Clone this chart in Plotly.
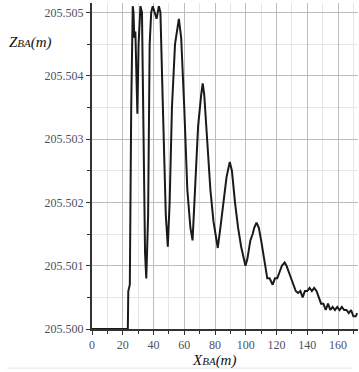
import plotly.graph_objects as go

x_vals = [0, 23.3, 23.6, 24.6, 25.5, 26.5, 27.0, 27.5, 28.2, 29.0, 29.5, 30.3, 31.5, 32.5, 33.5, 34.5, 35.3,
          36.5, 37.5, 38.5, 39.5, 41.0, 42.0, 43.5, 44.5, 46.0, 48.0, 49.3, 50.5, 52.0, 54.0, 56.5, 58.0,
          60.0, 62.0, 64.0, 65.4, 67.0, 69.0, 71.0, 72.0, 73.0, 75.0, 77.0, 79.0, 81.8, 83.5, 85.5, 87.5,
          89.6, 91.0, 93.0, 95.0, 97.0, 99.8, 101.0, 103.0, 104.5, 105.5, 107.0, 108.5, 110.0, 112.0,
          114.0, 115.5, 117.5, 119.0, 120.5, 122.0, 123.5, 125.3, 126.5, 128.0, 129.5, 131.0, 132.5,
          134.0, 135.5, 137.0, 138.5, 140.0, 141.5, 143.0, 144.5, 146.0, 147.5, 149.0, 150.5, 152.0,
          153.5, 155.0, 156.5, 158.0, 159.5, 161.0, 162.5, 164.0, 165.5, 167.0, 168.5, 170.0, 171.5, 172.5]
z_vals = [205.5000, 205.5000, 205.5006, 205.5007, 205.5035, 205.5051, 205.5050, 205.5046, 205.5047,
          205.5035, 205.5034, 205.5045, 205.5051, 205.5050, 205.5030, 205.5012, 205.5008,
          205.5018, 205.5045, 205.5050, 205.5051, 205.5050, 205.5049, 205.5051, 205.5050, 205.5036,
          205.5018, 205.5013, 205.5020, 205.5035, 205.5045, 205.5049, 205.5046,
          205.5035, 205.5022, 205.5016, 205.5014, 205.5022, 205.5032, 205.5037, 205.50388, 205.5037,
          205.5030, 205.5022, 205.5017, 205.50128, 205.5016, 205.5020, 205.5024,
          205.50264, 205.5025, 205.5020, 205.5016, 205.5013, 205.5010, 205.5011, 205.5014, 205.5015,
          205.5016, 205.50168, 205.5016, 205.5014, 205.5011,
          205.5008, 205.5008, 205.5007, 205.5008, 205.5008, 205.5009, 205.5010, 205.50105, 205.5010,
          205.5009, 205.5008, 205.5007, 205.5006,
          205.50057, 205.5006, 205.5005, 205.5006, 205.5006, 205.50065, 205.5006, 205.50065, 205.5006,
          205.5005, 205.5004, 205.5004, 205.5003,
          205.5004, 205.5003, 205.50035, 205.5003, 205.50035, 205.5003, 205.50035, 205.5003, 205.5003,
          205.50025, 205.5003, 205.5002, 205.5002, 205.50025]

x_ticks = [0, 20, 40, 60, 80, 100, 120, 140, 160]
y_ticks = [205.500, 205.501, 205.502, 205.503, 205.504, 205.505]

tick_font = dict(family="Liberation Serif", size=12, color="#4d5060")

fig = go.Figure()
fig.add_trace(go.Scatter(x=x_vals, y=z_vals, mode="lines",
                         line=dict(color="#1a1a1a", width=2), showlegend=False))

fig.update_layout(
    width=359, height=372,
    margin=dict(l=92, r=1, t=3, b=43),
    plot_bgcolor="white", paper_bgcolor="white",
    xaxis=dict(range=[0, 173], tickvals=x_ticks, ticktext=[str(v) for v in x_ticks],
               showgrid=True, gridcolor="#bdbdbd", gridwidth=1,
               minor=dict(dtick=10, showgrid=True, gridcolor="#e6e6e6", ticks="outside", ticklen=3,
                          tickcolor="#333"),
               ticks="outside", ticklen=4, tickcolor="#333",
               showline=True, linecolor="#333", linewidth=2, zeroline=False,
               tickfont=tick_font),
    yaxis=dict(range=[205.5, 205.50515], tickvals=y_ticks, tickformat=".3f",
               showgrid=True, gridcolor="#bdbdbd", gridwidth=1,
               minor=dict(dtick=0.0005, showgrid=True, gridcolor="#e6e6e6", ticks="outside", ticklen=3,
                          tickcolor="#333"),
               ticks="outside", ticklen=4, tickcolor="#333",
               showline=True, linecolor="#333", linewidth=2, zeroline=False,
               tickfont=tick_font),
    annotations=[
        dict(text="<i>Z<span style='font-size:11px'>BA</span>(m)</i>", xref="paper", yref="paper",
             x=-0.32, y=0.88, xanchor="left", yanchor="middle", showarrow=False,
             font=dict(family="Liberation Serif", size=15, color="#111")),
        dict(text="<i>X<span style='font-size:11px'>BA</span>(m)</i>", xref="paper", yref="paper",
             x=0.46, y=-0.098, xanchor="center", yanchor="middle", showarrow=False,
             font=dict(family="Liberation Serif", size=15, color="#111")),
    ],
    shapes=[dict(type="line", xref="paper", yref="paper", x0=-0.32, x1=0.98, y0=-0.12, y1=-0.12,
                 line=dict(color="#e6e6e6", width=1))],
)

fig.write_html("out.html", config={"displayModeBar": False},
               post_script="document.body.style.margin='0';")
